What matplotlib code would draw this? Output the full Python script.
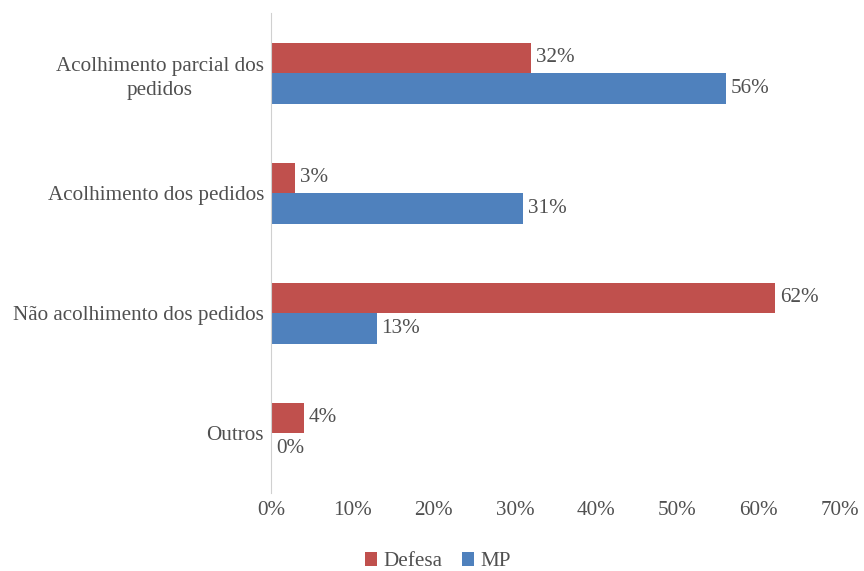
import matplotlib.pyplot as plt
import numpy as np

categories = ["Acolhimento parcial dos\npedidos", "Acolhimento dos pedidos",
              "Não acolhimento dos pedidos", "Outros"]
defesa = [32, 3, 62, 4]
mp = [56, 31, 13, 0]
series_names = ["Defesa", "MP"]
x_ticks = [0, 10, 20, 30, 40, 50, 60, 70]

RED = "#C0504D"
BLUE = "#4F81BD"
TEXT = "#505050"
FS = 15.2

plt.rcParams["font.family"] = ["Liberation Serif", "DejaVu Serif"]

fig = plt.figure(figsize=(8.64, 5.71), dpi=100)
ax = fig.add_axes([0.3137, 0.1366, 0.6585, 0.8404])

pos = np.arange(len(categories))[::-1]
h = 0.254
b1 = ax.barh(pos + h / 2, defesa, height=h, color=RED, label=series_names[0])
b2 = ax.barh(pos - h / 2, mp, height=h, color=BLUE, label=series_names[1])

for bars, vals in ((b1, defesa), (b2, mp)):
    for bar, v in zip(bars, vals):
        ax.text(bar.get_width() + 0.6, bar.get_y() + bar.get_height() / 2,
                f"{v}%", va="center", ha="left", fontsize=FS, color=TEXT)

ax.set_xlim(0, 70)
ax.set_ylim(-0.5, 3.5)
ax.set_xticks(x_ticks)
ax.set_xticklabels([f"{t}%" for t in x_ticks])
ax.set_yticks(pos)
ax.set_yticklabels(categories, ha="right", multialignment="center", linespacing=1.35)
ax.tick_params(axis="y", length=0, pad=5, labelsize=FS, labelcolor=TEXT)
ax.tick_params(axis="x", length=0, pad=6, labelsize=FS, labelcolor=TEXT)

for s in ("top", "right", "bottom"):
    ax.spines[s].set_visible(False)
ax.spines["left"].set_color("#D0D0D0")

fig.legend(handles=[b1, b2], loc="center", bbox_to_anchor=(0.507, 0.016),
           ncol=2, frameon=False, fontsize=FS, labelcolor=TEXT,
           handlelength=0.6, handleheight=0.6, handletextpad=0.3, columnspacing=0.9)

fig.savefig("out.png", dpi=100)
